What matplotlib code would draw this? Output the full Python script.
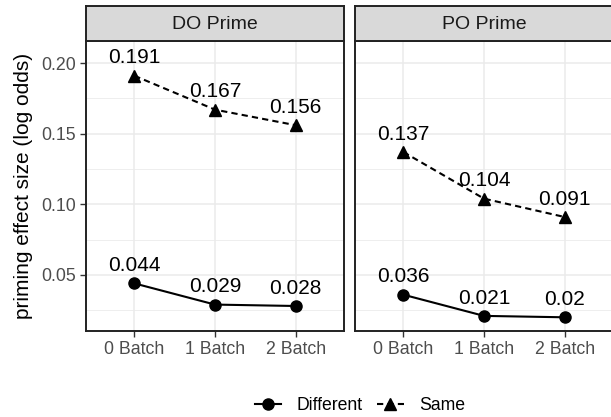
import numpy as np
import matplotlib
matplotlib.use("Agg")
import matplotlib.pyplot as plt
from matplotlib.lines import Line2D

plt.rcParams['font.family'] = ['Liberation Sans', 'DejaVu Sans']

batches = ["0 Batch", "1 Batch", "2 Batch"]
panels = ["DO Prime", "PO Prime"]
same_vals = {"DO Prime": [0.191, 0.167, 0.156], "PO Prime": [0.137, 0.104, 0.091]}
diff_vals = {"DO Prime": [0.044, 0.029, 0.028], "PO Prime": [0.036, 0.021, 0.020]}
same_labels = {"DO Prime": ["0.191", "0.167", "0.156"], "PO Prime": ["0.137", "0.104", "0.091"]}
diff_labels = {"DO Prime": ["0.044", "0.029", "0.028"], "PO Prime": ["0.036", "0.021", "0.02"]}

W, H = 611, 417
fig = plt.figure(figsize=(W / 100, H / 100), dpi=100)

panel_left = [86, 355]
panel_w = 258
panel_top, panel_bot = 41, 331
strip_top = 6
grid_col = "#EBEBEB"
border_col = "#222222"

x = np.arange(len(batches))
for i, name in enumerate(panels):
    ax = fig.add_axes([panel_left[i] / W, 1 - panel_bot / H, panel_w / W, (panel_bot - panel_top) / H])
    ax.set_xlim(-0.6, 2.6)
    ax.set_ylim(0.0103, 0.2156)
    ax.set_yticks([0.05, 0.10, 0.15, 0.20])
    ax.set_yticks([0.025, 0.075, 0.125, 0.175], minor=True)
    ax.set_xticks(x)
    ax.set_xticklabels(batches)
    ax.grid(True, which="major", color=grid_col, lw=1.1, zorder=0)
    ax.grid(True, which="minor", axis="y", color=grid_col, lw=0.6, zorder=0)
    ax.set_axisbelow(True)
    for s in ax.spines.values():
        s.set_color(border_col)
        s.set_linewidth(1.4)
    ax.tick_params(which="major", length=4, width=1.0, color="#333333",
                   labelcolor="#4D4D4D", labelsize=12.8, pad=3)
    ax.tick_params(which="minor", length=0)
    if i == 0:
        ax.set_yticklabels(["0.05", "0.10", "0.15", "0.20"])
        ax.set_ylabel("priming effect size (log odds)", fontsize=15)
        ax.yaxis.set_label_coords(-0.205, 0.5)
    else:
        ax.tick_params(axis="y", which="major", length=0, labelleft=False)

    ax.plot(x, same_vals[name], color="black", ls=(0, (3, 2)), lw=1.5,
            marker="^", ms=9, zorder=3)
    ax.plot(x, diff_vals[name], color="black", ls="-", lw=1.5,
            marker="o", ms=8, zorder=3)
    for xi, v, t in zip(x, same_vals[name], same_labels[name]):
        ax.annotate(t, (xi, v), xytext=(0, 6), textcoords="offset points",
                    ha="center", va="bottom", fontsize=15, zorder=4)
    for xi, v, t in zip(x, diff_vals[name], diff_labels[name]):
        ax.annotate(t, (xi, v), xytext=(0, 6), textcoords="offset points",
                    ha="center", va="bottom", fontsize=15, zorder=4)

    sax = fig.add_axes([panel_left[i] / W, 1 - panel_top / H, panel_w / W, (panel_top - strip_top) / H])
    sax.set_facecolor("#D9D9D9")
    sax.set_xticks([])
    sax.set_yticks([])
    for s in sax.spines.values():
        s.set_color(border_col)
        s.set_linewidth(1.4)
    sax.text(0.5, 0.48, name, ha="center", va="center", fontsize=14,
             color="#1A1A1A", transform=sax.transAxes)

handles = [
    Line2D([], [], color="black", ls="-", lw=1.5, marker="o", ms=8),
    Line2D([], [], color="black", ls=(0, (3, 2)), lw=1.5, marker="^", ms=9),
]
fig.legend(handles, ["Different", "Same"], loc="center", bbox_to_anchor=(360 / W, 1 - 406 / H),
           ncol=2, frameon=False, fontsize=12.7, handlelength=1.5, columnspacing=0.8,
           handletextpad=0.9)

fig.savefig("out.png", dpi=100)
